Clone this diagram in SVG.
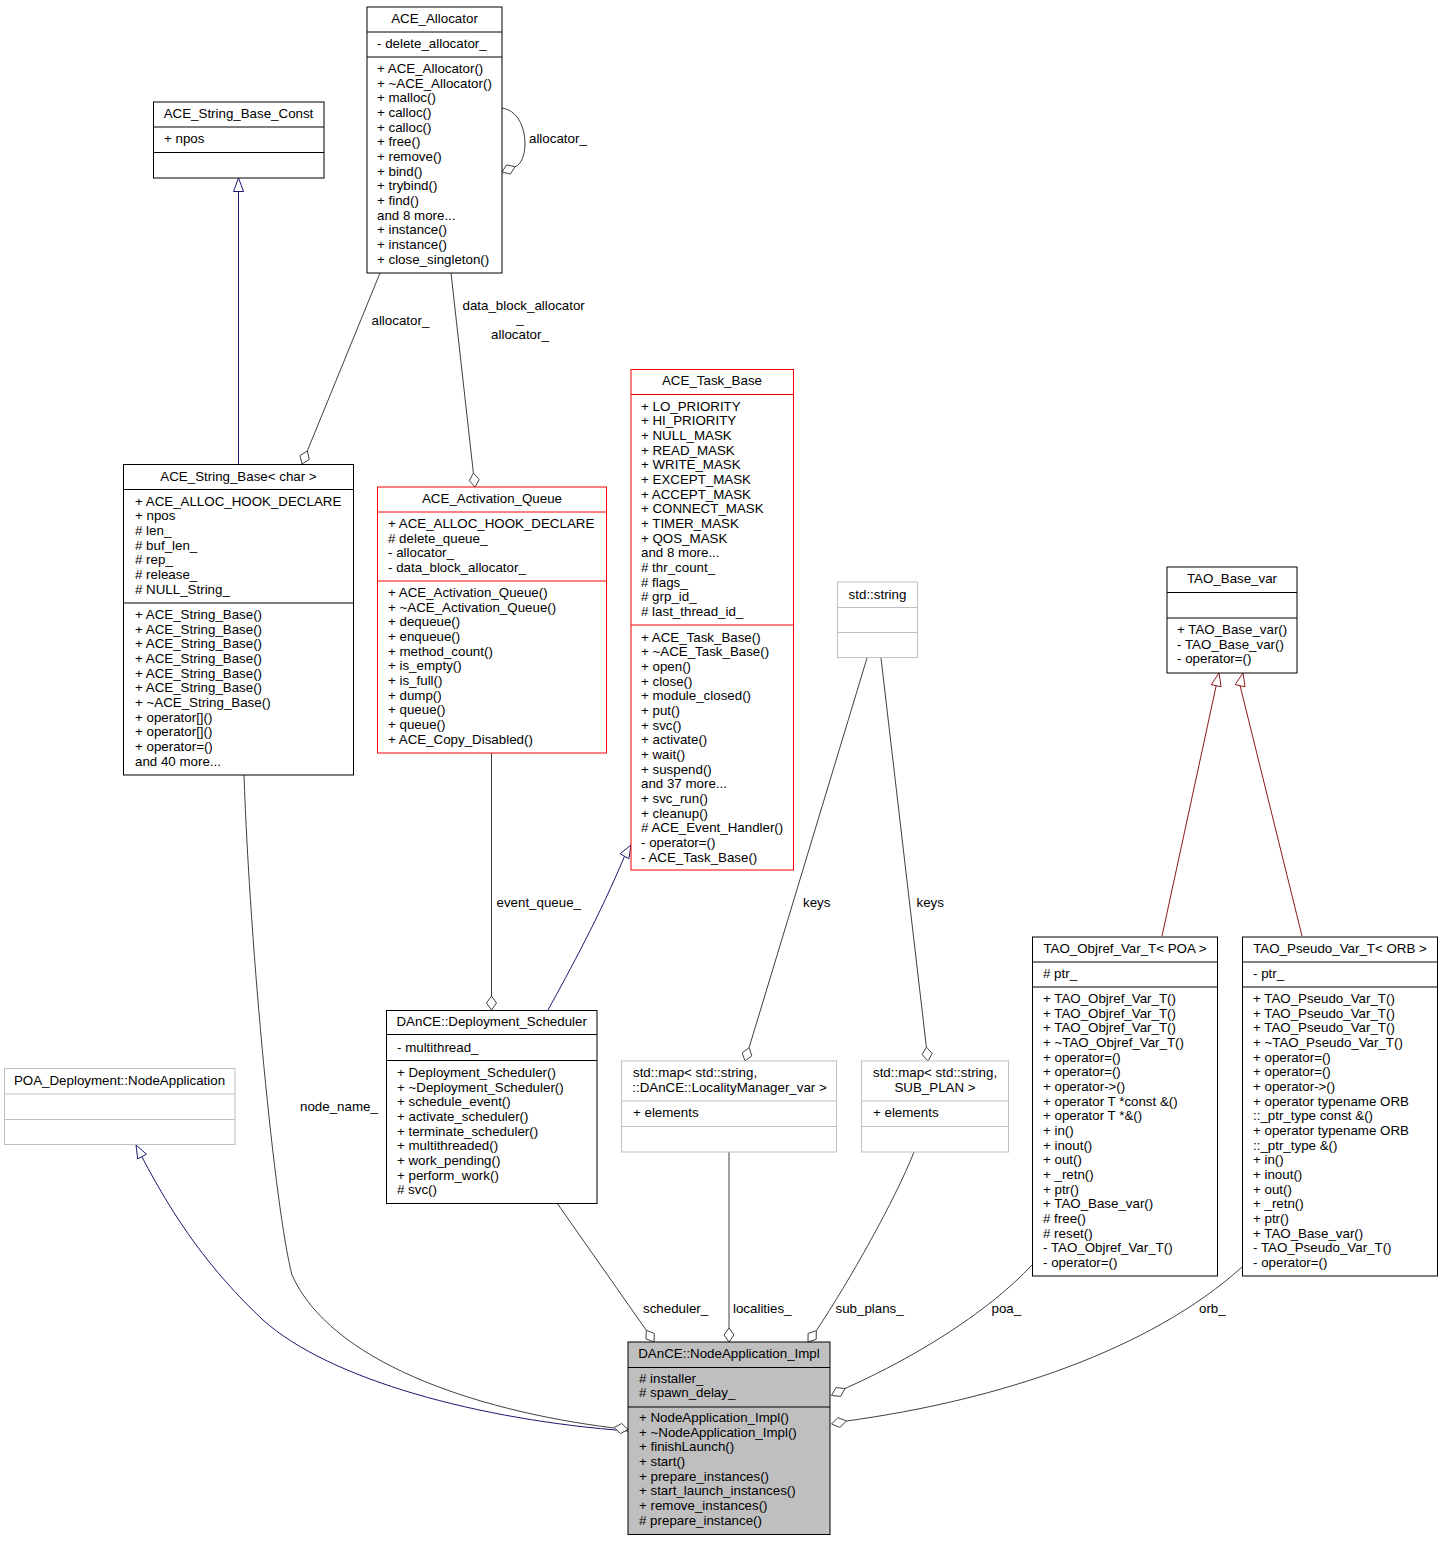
<svg xmlns="http://www.w3.org/2000/svg" width="1443" height="1541" viewBox="0 0 1443 1541">
<style>
text{font-family:"Liberation Sans",Arial,sans-serif;font-size:13.33px;fill:#000}
.c{text-anchor:middle}
.box{fill:#fff;stroke:#000;stroke-width:1}
.gbox{fill:#fff;stroke:#bfbfbf;stroke-width:1}
.rbox{fill:#fff;stroke:#ff0000;stroke-width:1}
.sel{fill:#bfbfbf;stroke:#000;stroke-width:1}
.sep{stroke:#000;stroke-width:1}
.gsep{stroke:#bfbfbf;stroke-width:1}
.rsep{stroke:#ff0000;stroke-width:1}
.e{fill:none;stroke:#404040;stroke-width:1}
.d{fill:#fff;stroke:#404040;stroke-width:1}
.ib{fill:none;stroke:#191970;stroke-width:1}
.ibh{fill:#fff;stroke:#191970;stroke-width:1}
.ir{fill:none;stroke:#8b1a1a;stroke-width:1}
.irh{fill:#fff;stroke:#8b1a1a;stroke-width:1}
</style>
<rect width="1443" height="1541" fill="#fff"/>

<g id="connectors">
  <!-- ACE_String_Base_Const <- ACE_String_Base -->
  <path class="ib" d="M238.5,464.5 L238.5,191.5"/>
  <polygon class="ibh" points="238.5,178 233.5,191.5 243.5,191.5"/>
  <!-- allocator_ self loop -->
  <path class="e" d="M502,108 C530,112 530,162 515,166.8"/>
  <polygon class="d" points="502,172 510.4,174.1 515,166.8 506.7,164.8"/>
  <!-- allocator_ to String_Base -->
  <path class="e" d="M380,273 L307.3,451"/>
  <polygon class="d" points="302,464 309.3,459.4 307.3,451 300,455.6"/>
  <!-- data_block_allocator_ / allocator_ to Activation_Queue -->
  <path class="e" d="M451,273 L473.4,473.1"/>
  <polygon class="d" points="475,487 479.2,479.5 473.4,473.1 469.3,480.6"/>
  <!-- event_queue_ -->
  <path class="e" d="M491.5,753 L491.5,996"/>
  <polygon class="d" points="491.5,1010 496.5,1003 491.5,996 486.5,1003"/>
  <!-- Deployment_Scheduler -> ACE_Task_Base -->
  <path class="ib" d="M548,1010 C570,970 600,915 624.5,856.3"/>
  <polygon class="ibh" points="631,845 628.9,858.8 620.2,853.8"/>
  <!-- keys (std::string -> LocalityManager map) -->
  <path class="e" d="M867,658 L749.1,1047.6"/>
  <polygon class="d" points="745,1061 751.8,1055.8 749.1,1047.6 742.2,1052.9"/>
  <!-- keys (std::string -> SUB_PLAN map) -->
  <path class="e" d="M881,658 L926.4,1047.1"/>
  <polygon class="d" points="928,1061 932.2,1053.5 926.4,1047.1 922.2,1054.6"/>
  <!-- TAO_Objref -> TAO_Base_var -->
  <path class="ir" d="M1162,936 L1216.2,685.7"/>
  <polygon class="irh" points="1219,673 1221.1,686.8 1211.3,684.6"/>
  <!-- TAO_Pseudo -> TAO_Base_var -->
  <path class="ir" d="M1302,936 L1240.1,685.7"/>
  <polygon class="irh" points="1243,673 1245,686.8 1235.2,684.6"/>
  <!-- POA inheritance -->
  <path class="ib" d="M142,1157 C175,1220 210,1270 263,1320 C330,1380 480,1420 628,1431"/>
  <polygon class="ibh" points="136,1145 146.5,1154.2 137.7,1158.9"/>
  <!-- node_name_ -->
  <path class="e" d="M244,775 C250,950 275,1210 292,1275 C330,1360 470,1410 614,1428"/>
  <polygon class="d" points="628,1429.5 621.7,1423.5 614,1427.5 620.5,1433.5"/>
  <!-- scheduler_ -->
  <path class="e" d="M557,1203 L646.3,1330.3"/>
  <polygon class="d" points="654,1342 654.3,1333.4 646.3,1330.3 646,1338.9"/>
  <!-- localities_ -->
  <path class="e" d="M729,1152 L729,1328"/>
  <polygon class="d" points="729,1342 734,1335 729,1328 724,1335"/>
  <!-- sub_plans_ -->
  <path class="e" d="M914,1152 C895,1200 850,1280 816.3,1330.7"/>
  <polygon class="d" points="808,1342 816.2,1339.3 816.3,1330.7 808.1,1333.4"/>
  <!-- poa_ -->
  <path class="e" d="M1032,1265 C990,1310 920,1355 845,1388.5"/>
  <polygon class="d" points="831.5,1395.5 840.55,1396.4 845,1388.5 835.95,1387.6"/>
  <!-- orb_ -->
  <path class="e" d="M1242,1267 C1150,1350 1000,1400 846.5,1421"/>
  <polygon class="d" points="831.5,1424 839.8,1427.4 846.5,1421 837.9,1417.6"/>
  <!-- labels -->
  <text x="529" y="143">allocator_</text>
  <text x="371.5" y="325">allocator_</text>
  <text x="462.5" y="310">data_block_allocator</text>
  <text class="c" x="520" y="323">_</text>
  <text class="c" x="520" y="338.5">allocator_</text>
  <text x="496.5" y="907">event_queue_</text>
  <text x="803" y="907">keys</text>
  <text x="916.5" y="907">keys</text>
  <text x="300" y="1110.5">node_name_</text>
  <text x="643" y="1313">scheduler_</text>
  <text x="733" y="1313">localities_</text>
  <text x="835.5" y="1313">sub_plans_</text>
  <text x="991.5" y="1313">poa_</text>
  <text x="1199" y="1313">orb_</text>
</g>

<g id="ACE_Allocator">
  <rect class="box" x="367" y="7" width="135" height="266"/>
  <line class="sep" x1="367" y1="32" x2="502" y2="32"/>
  <line class="sep" x1="367" y1="57" x2="502" y2="57"/>
  <text class="c" x="434.5" y="23">ACE_Allocator</text>
  <text x="377" y="48">- delete_allocator_</text>
  <text x="377" y="73"><tspan x="377">+ ACE_Allocator()</tspan><tspan x="377" dy="14.67">+ ~ACE_Allocator()</tspan><tspan x="377" dy="14.67">+ malloc()</tspan><tspan x="377" dy="14.67">+ calloc()</tspan><tspan x="377" dy="14.67">+ calloc()</tspan><tspan x="377" dy="14.67">+ free()</tspan><tspan x="377" dy="14.67">+ remove()</tspan><tspan x="377" dy="14.67">+ bind()</tspan><tspan x="377" dy="14.67">+ trybind()</tspan><tspan x="377" dy="14.67">+ find()</tspan><tspan x="377" dy="14.67">and 8 more...</tspan><tspan x="377" dy="14.67">+ instance()</tspan><tspan x="377" dy="14.67">+ instance()</tspan><tspan x="377" dy="14.67">+ close_singleton()</tspan></text>
</g>

<g id="ACE_String_Base_Const">
  <rect class="box" x="153.5" y="102" width="170.5" height="76"/>
  <line class="sep" x1="153.5" y1="127" x2="324" y2="127"/>
  <line class="sep" x1="153.5" y1="152.5" x2="324" y2="152.5"/>
  <text class="c" x="238.5" y="118">ACE_String_Base_Const</text>
  <text x="164" y="143">+ npos</text>
</g>

<g id="ACE_String_Base_char">
  <rect class="box" x="123.5" y="464.5" width="230" height="310.5"/>
  <line class="sep" x1="123.5" y1="489.5" x2="353.5" y2="489.5"/>
  <line class="sep" x1="123.5" y1="603" x2="353.5" y2="603"/>
  <text class="c" x="238.5" y="481">ACE_String_Base&lt; char &gt;</text>
  <text x="135" y="505.5"><tspan x="135">+ ACE_ALLOC_HOOK_DECLARE</tspan><tspan x="135" dy="14.67">+ npos</tspan><tspan x="135" dy="14.67"># len_</tspan><tspan x="135" dy="14.67"># buf_len_</tspan><tspan x="135" dy="14.67"># rep_</tspan><tspan x="135" dy="14.67"># release_</tspan><tspan x="135" dy="14.67"># NULL_String_</tspan></text>
  <text x="135" y="619"><tspan x="135">+ ACE_String_Base()</tspan><tspan x="135" dy="14.67">+ ACE_String_Base()</tspan><tspan x="135" dy="14.67">+ ACE_String_Base()</tspan><tspan x="135" dy="14.67">+ ACE_String_Base()</tspan><tspan x="135" dy="14.67">+ ACE_String_Base()</tspan><tspan x="135" dy="14.67">+ ACE_String_Base()</tspan><tspan x="135" dy="14.67">+ ~ACE_String_Base()</tspan><tspan x="135" dy="14.67">+ operator[]()</tspan><tspan x="135" dy="14.67">+ operator[]()</tspan><tspan x="135" dy="14.67">+ operator=()</tspan><tspan x="135" dy="14.67">and 40 more...</tspan></text>
</g>

<g id="ACE_Activation_Queue">
  <rect class="rbox" x="377.5" y="487" width="229" height="266"/>
  <line class="rsep" x1="377.5" y1="512" x2="606.5" y2="512"/>
  <line class="rsep" x1="377.5" y1="581" x2="606.5" y2="581"/>
  <text class="c" x="492" y="503">ACE_Activation_Queue</text>
  <text x="388" y="528"><tspan x="388">+ ACE_ALLOC_HOOK_DECLARE</tspan><tspan x="388" dy="14.67"># delete_queue_</tspan><tspan x="388" dy="14.67">- allocator_</tspan><tspan x="388" dy="14.67">- data_block_allocator_</tspan></text>
  <text x="388" y="597"><tspan x="388">+ ACE_Activation_Queue()</tspan><tspan x="388" dy="14.67">+ ~ACE_Activation_Queue()</tspan><tspan x="388" dy="14.67">+ dequeue()</tspan><tspan x="388" dy="14.67">+ enqueue()</tspan><tspan x="388" dy="14.67">+ method_count()</tspan><tspan x="388" dy="14.67">+ is_empty()</tspan><tspan x="388" dy="14.67">+ is_full()</tspan><tspan x="388" dy="14.67">+ dump()</tspan><tspan x="388" dy="14.67">+ queue()</tspan><tspan x="388" dy="14.67">+ queue()</tspan><tspan x="388" dy="14.67">+ ACE_Copy_Disabled()</tspan></text>
</g>

<g id="ACE_Task_Base">
  <rect class="rbox" x="631" y="369.5" width="162.5" height="500.5"/>
  <line class="rsep" x1="631" y1="394.5" x2="793.5" y2="394.5"/>
  <line class="rsep" x1="631" y1="625" x2="793.5" y2="625"/>
  <text class="c" x="712" y="385">ACE_Task_Base</text>
  <text x="641" y="410.5"><tspan x="641">+ LO_PRIORITY</tspan><tspan x="641" dy="14.67">+ HI_PRIORITY</tspan><tspan x="641" dy="14.67">+ NULL_MASK</tspan><tspan x="641" dy="14.67">+ READ_MASK</tspan><tspan x="641" dy="14.67">+ WRITE_MASK</tspan><tspan x="641" dy="14.67">+ EXCEPT_MASK</tspan><tspan x="641" dy="14.67">+ ACCEPT_MASK</tspan><tspan x="641" dy="14.67">+ CONNECT_MASK</tspan><tspan x="641" dy="14.67">+ TIMER_MASK</tspan><tspan x="641" dy="14.67">+ QOS_MASK</tspan><tspan x="641" dy="14.67">and 8 more...</tspan><tspan x="641" dy="14.67"># thr_count_</tspan><tspan x="641" dy="14.67"># flags_</tspan><tspan x="641" dy="14.67"># grp_id_</tspan><tspan x="641" dy="14.67"># last_thread_id_</tspan></text>
  <text x="641" y="641.5"><tspan x="641">+ ACE_Task_Base()</tspan><tspan x="641" dy="14.67">+ ~ACE_Task_Base()</tspan><tspan x="641" dy="14.67">+ open()</tspan><tspan x="641" dy="14.67">+ close()</tspan><tspan x="641" dy="14.67">+ module_closed()</tspan><tspan x="641" dy="14.67">+ put()</tspan><tspan x="641" dy="14.67">+ svc()</tspan><tspan x="641" dy="14.67">+ activate()</tspan><tspan x="641" dy="14.67">+ wait()</tspan><tspan x="641" dy="14.67">+ suspend()</tspan><tspan x="641" dy="14.67">and 37 more...</tspan><tspan x="641" dy="14.67">+ svc_run()</tspan><tspan x="641" dy="14.67">+ cleanup()</tspan><tspan x="641" dy="14.67"># ACE_Event_Handler()</tspan><tspan x="641" dy="14.67">- operator=()</tspan><tspan x="641" dy="14.67">- ACE_Task_Base()</tspan></text>
</g>

<g id="std_string">
  <rect class="gbox" x="837.5" y="582" width="80" height="75.5"/>
  <line class="gsep" x1="837.5" y1="607.5" x2="917.5" y2="607.5"/>
  <line class="gsep" x1="837.5" y1="632.5" x2="917.5" y2="632.5"/>
  <text class="c" x="877.5" y="598.5">std::string</text>
</g>

<g id="TAO_Base_var">
  <rect class="box" x="1167" y="567" width="130" height="106"/>
  <line class="sep" x1="1167" y1="592.5" x2="1297" y2="592.5"/>
  <line class="sep" x1="1167" y1="618" x2="1297" y2="618"/>
  <text class="c" x="1232" y="583">TAO_Base_var</text>
  <text x="1177" y="634"><tspan x="1177">+ TAO_Base_var()</tspan><tspan x="1177" dy="14.67">- TAO_Base_var()</tspan><tspan x="1177" dy="14.67">- operator=()</tspan></text>
</g>

<g id="TAO_Objref_Var_T_POA">
  <rect class="box" x="1032.5" y="937" width="185" height="339"/>
  <line class="sep" x1="1032.5" y1="962" x2="1217.5" y2="962"/>
  <line class="sep" x1="1032.5" y1="987" x2="1217.5" y2="987"/>
  <text class="c" x="1125" y="953">TAO_Objref_Var_T&lt; POA &gt;</text>
  <text x="1043" y="978"># ptr_</text>
  <text x="1043" y="1003"><tspan x="1043">+ TAO_Objref_Var_T()</tspan><tspan x="1043" dy="14.67">+ TAO_Objref_Var_T()</tspan><tspan x="1043" dy="14.67">+ TAO_Objref_Var_T()</tspan><tspan x="1043" dy="14.67">+ ~TAO_Objref_Var_T()</tspan><tspan x="1043" dy="14.67">+ operator=()</tspan><tspan x="1043" dy="14.67">+ operator=()</tspan><tspan x="1043" dy="14.67">+ operator-&gt;()</tspan><tspan x="1043" dy="14.67">+ operator T *const &amp;()</tspan><tspan x="1043" dy="14.67">+ operator T *&amp;()</tspan><tspan x="1043" dy="14.67">+ in()</tspan><tspan x="1043" dy="14.67">+ inout()</tspan><tspan x="1043" dy="14.67">+ out()</tspan><tspan x="1043" dy="14.67">+ _retn()</tspan><tspan x="1043" dy="14.67">+ ptr()</tspan><tspan x="1043" dy="14.67">+ TAO_Base_var()</tspan><tspan x="1043" dy="14.67"># free()</tspan><tspan x="1043" dy="14.67"># reset()</tspan><tspan x="1043" dy="14.67">- TAO_Objref_Var_T()</tspan><tspan x="1043" dy="14.67">- operator=()</tspan></text>
</g>

<g id="TAO_Pseudo_Var_T_ORB">
  <rect class="box" x="1242.5" y="937" width="195" height="339"/>
  <line class="sep" x1="1242.5" y1="962" x2="1437.5" y2="962"/>
  <line class="sep" x1="1242.5" y1="987" x2="1437.5" y2="987"/>
  <text class="c" x="1340" y="953">TAO_Pseudo_Var_T&lt; ORB &gt;</text>
  <text x="1253" y="978">- ptr_</text>
  <text x="1253" y="1003"><tspan x="1253">+ TAO_Pseudo_Var_T()</tspan><tspan x="1253" dy="14.67">+ TAO_Pseudo_Var_T()</tspan><tspan x="1253" dy="14.67">+ TAO_Pseudo_Var_T()</tspan><tspan x="1253" dy="14.67">+ ~TAO_Pseudo_Var_T()</tspan><tspan x="1253" dy="14.67">+ operator=()</tspan><tspan x="1253" dy="14.67">+ operator=()</tspan><tspan x="1253" dy="14.67">+ operator-&gt;()</tspan><tspan x="1253" dy="14.67">+ operator typename ORB</tspan><tspan x="1253" dy="14.67">::_ptr_type const &amp;()</tspan><tspan x="1253" dy="14.67">+ operator typename ORB</tspan><tspan x="1253" dy="14.67">::_ptr_type &amp;()</tspan><tspan x="1253" dy="14.67">+ in()</tspan><tspan x="1253" dy="14.67">+ inout()</tspan><tspan x="1253" dy="14.67">+ out()</tspan><tspan x="1253" dy="14.67">+ _retn()</tspan><tspan x="1253" dy="14.67">+ ptr()</tspan><tspan x="1253" dy="14.67">+ TAO_Base_var()</tspan><tspan x="1253" dy="14.67">- TAO_Pseudo_Var_T()</tspan><tspan x="1253" dy="14.67">- operator=()</tspan></text>
</g>

<g id="POA_Deployment_NodeApplication">
  <rect class="gbox" x="4.5" y="1068.5" width="230.5" height="76"/>
  <line class="gsep" x1="4.5" y1="1094" x2="235" y2="1094"/>
  <line class="gsep" x1="4.5" y1="1119.5" x2="235" y2="1119.5"/>
  <text class="c" x="119.5" y="1085">POA_Deployment::NodeApplication</text>
</g>

<g id="DAnCE_Deployment_Scheduler">
  <rect class="box" x="386.5" y="1010.5" width="210.5" height="193"/>
  <line class="sep" x1="386.5" y1="1034.5" x2="597" y2="1034.5"/>
  <line class="sep" x1="386.5" y1="1060.5" x2="597" y2="1060.5"/>
  <text class="c" x="491.7" y="1026">DAnCE::Deployment_Scheduler</text>
  <text x="397" y="1052">- multithread_</text>
  <text x="397" y="1077"><tspan x="397">+ Deployment_Scheduler()</tspan><tspan x="397" dy="14.67">+ ~Deployment_Scheduler()</tspan><tspan x="397" dy="14.67">+ schedule_event()</tspan><tspan x="397" dy="14.67">+ activate_scheduler()</tspan><tspan x="397" dy="14.67">+ terminate_scheduler()</tspan><tspan x="397" dy="14.67">+ multithreaded()</tspan><tspan x="397" dy="14.67">+ work_pending()</tspan><tspan x="397" dy="14.67">+ perform_work()</tspan><tspan x="397" dy="14.67"># svc()</tspan></text>
</g>

<g id="std_map_LocalityManager">
  <rect class="gbox" x="621.5" y="1061" width="215" height="91"/>
  <line class="gsep" x1="621.5" y1="1101" x2="836.5" y2="1101"/>
  <line class="gsep" x1="621.5" y1="1126.5" x2="836.5" y2="1126.5"/>
  <text x="633" y="1077">std::map&lt; std::string,</text>
  <text class="c" x="729.5" y="1091.7">::DAnCE::LocalityManager_var &gt;</text>
  <text x="633" y="1117">+ elements</text>
</g>

<g id="std_map_SUB_PLAN">
  <rect class="gbox" x="861.5" y="1061" width="147" height="91"/>
  <line class="gsep" x1="861.5" y1="1101" x2="1008.5" y2="1101"/>
  <line class="gsep" x1="861.5" y1="1126.5" x2="1008.5" y2="1126.5"/>
  <text x="873" y="1077">std::map&lt; std::string,</text>
  <text class="c" x="935" y="1091.7">SUB_PLAN &gt;</text>
  <text x="873" y="1117">+ elements</text>
</g>

<g id="DAnCE_NodeApplication_Impl">
  <rect class="sel" x="628" y="1342" width="202" height="192.5"/>
  <line class="sep" x1="628" y1="1367.5" x2="830" y2="1367.5"/>
  <line class="sep" x1="628" y1="1407" x2="830" y2="1407"/>
  <text class="c" x="729" y="1358">DAnCE::NodeApplication_Impl</text>
  <text x="639" y="1382.5"><tspan x="639"># installer_</tspan><tspan x="639" dy="14.67"># spawn_delay_</tspan></text>
  <text x="639" y="1422"><tspan x="639">+ NodeApplication_Impl()</tspan><tspan x="639" dy="14.67">+ ~NodeApplication_Impl()</tspan><tspan x="639" dy="14.67">+ finishLaunch()</tspan><tspan x="639" dy="14.67">+ start()</tspan><tspan x="639" dy="14.67">+ prepare_instances()</tspan><tspan x="639" dy="14.67">+ start_launch_instances()</tspan><tspan x="639" dy="14.67">+ remove_instances()</tspan><tspan x="639" dy="14.67"># prepare_instance()</tspan></text>
</g>
</svg>
